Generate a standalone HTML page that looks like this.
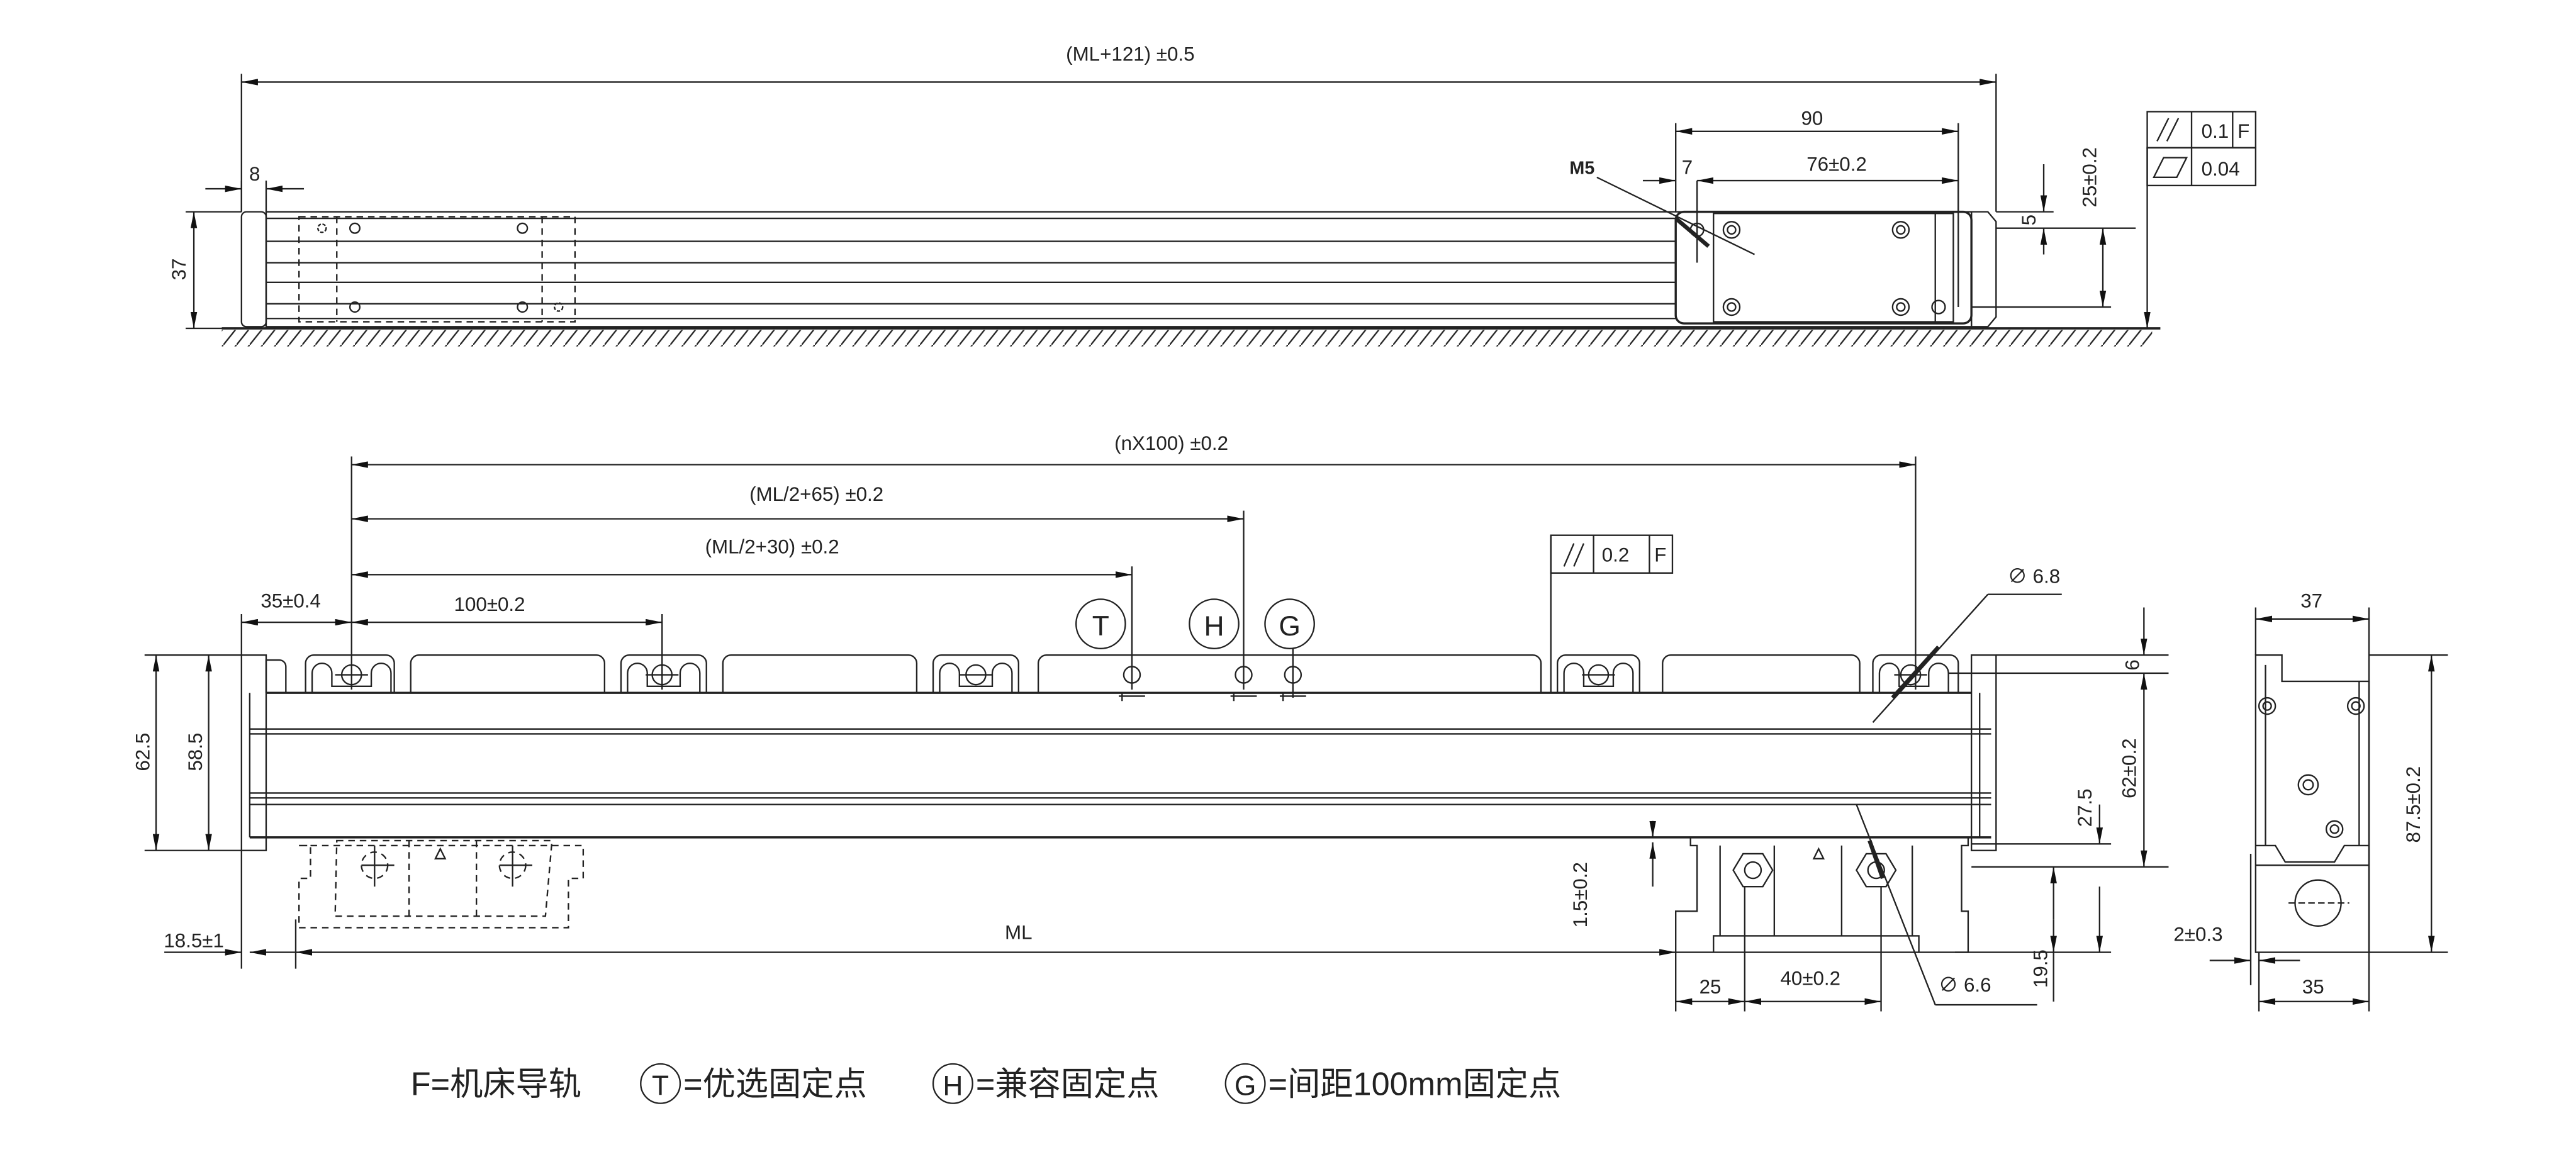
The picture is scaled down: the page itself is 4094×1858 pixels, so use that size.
<!DOCTYPE html>
<html><head><meta charset="utf-8"><style>
html,body{margin:0;padding:0;background:#fff}
svg{display:block}
text{font-family:"Liberation Sans","Noto Sans CJK SC",sans-serif;fill:#222}
</style></head><body>
<svg width="4094" height="1858" viewBox="0 0 1568 712" preserveAspectRatio="none" xmlns="http://www.w3.org/2000/svg">
<defs>
<marker id="a" viewBox="0 0 10 4" refX="10" refY="2" markerWidth="10" markerHeight="4" markerUnits="userSpaceOnUse" orient="auto-start-reverse"><path d="M0,0L10,2L0,4z" fill="#111"/></marker>
<pattern id="h" width="8" height="10" patternUnits="userSpaceOnUse"><path d="M8,0L0,10" stroke="#222" stroke-width="0.9"/></pattern>
</defs>
<g stroke="#222" stroke-width="0.9" fill="none">
<!-- TOP VIEW -->
<line x1="147" y1="45" x2="147" y2="129"/><line x1="1215" y1="45" x2="1215" y2="129"/>
<line x1="147" y1="50" x2="1215" y2="50" marker-start="url(#a)" marker-end="url(#a)"/>
<rect x="135" y="201" width="1175" height="10" fill="url(#h)" stroke="none"/>
<line x1="135" y1="200" x2="1315" y2="200" stroke-width="1.4"/>
<rect x="147" y="129" width="15" height="70" rx="3"/>
<rect x="162" y="129" width="1038" height="70"/>
<line x1="162" y1="133" x2="1020" y2="133"/><line x1="162" y1="147" x2="1020" y2="147"/>
<line x1="162" y1="160" x2="1020" y2="160"/><line x1="162" y1="172" x2="1020" y2="172"/>
<line x1="162" y1="185" x2="1020" y2="185"/><line x1="162" y1="194" x2="1020" y2="194"/>
<rect x="182" y="132" width="168" height="64" stroke-dasharray="4,3"/>
<line x1="205" y1="132" x2="205" y2="196" stroke-dasharray="4,3"/>
<line x1="330" y1="132" x2="330" y2="196" stroke-dasharray="4,3"/>
<circle cx="216" cy="139" r="3"/><circle cx="318" cy="139" r="3"/><circle cx="216" cy="187" r="3"/><circle cx="318" cy="187" r="3"/>
<circle cx="196" cy="139" r="2.5" stroke-dasharray="2,1"/><circle cx="340" cy="187" r="2.5" stroke-dasharray="2,1"/>
<path d="M1200,129h10l5,6v58l-5,6h-10z"/>
<rect x="1020" y="129" width="180" height="68" rx="5" stroke-width="1.3"/>
<rect x="1043" y="130" width="146" height="66"/>
<line x1="1178" y1="130" x2="1178" y2="196"/>
<g><circle cx="1054" cy="140" r="5"/><circle cx="1054" cy="140" r="2.5"/><circle cx="1157" cy="140" r="5"/><circle cx="1157" cy="140" r="2.5"/>
<circle cx="1054" cy="187" r="5"/><circle cx="1054" cy="187" r="2.5"/><circle cx="1157" cy="187" r="5"/><circle cx="1157" cy="187" r="2.5"/>
<circle cx="1180" cy="187" r="4"/><circle cx="1033" cy="140" r="4"/></g>
<line x1="1020" y1="75" x2="1020" y2="129"/><line x1="1192" y1="75" x2="1192" y2="129"/>
<line x1="1020" y1="80" x2="1192" y2="80" marker-start="url(#a)" marker-end="url(#a)"/>
<line x1="1033" y1="110" x2="1033" y2="160"/><line x1="1192" y1="110" x2="1192" y2="187"/>
<line x1="1000" y1="110" x2="1020" y2="110" marker-end="url(#a)"/>
<line x1="1033" y1="110" x2="1192" y2="110" marker-start="url(#a)" marker-end="url(#a)"/>
<line x1="972" y1="108" x2="1068" y2="155"/>
<line x1="1020" y1="133" x2="1040" y2="150" stroke-width="2.5"/>
<line x1="1215" y1="129" x2="1250" y2="129"/><line x1="1215" y1="139" x2="1300" y2="139"/><line x1="1200" y1="187" x2="1285" y2="187"/>
<line x1="1244" y1="100" x2="1244" y2="129" marker-end="url(#a)"/>
<line x1="1244" y1="155" x2="1244" y2="139" marker-end="url(#a)"/>
<line x1="1280" y1="139" x2="1280" y2="187" marker-start="url(#a)" marker-end="url(#a)"/>
<line x1="1307" y1="90" x2="1307" y2="200" marker-end="url(#a)"/>
<rect x="1307" y="68" width="66" height="22"/><line x1="1334" y1="68" x2="1334" y2="113"/><line x1="1359" y1="68" x2="1359" y2="90"/>
<rect x="1307" y="90" width="66" height="23"/>
<line x1="1313" y1="86" x2="1320" y2="72"/><line x1="1319" y1="86" x2="1326" y2="72"/>
<path d="M1311,108h14l6,-12h-14z"/>
<line x1="113" y1="129" x2="147" y2="129"/><line x1="113" y1="200" x2="135" y2="200"/>
<line x1="118" y1="129" x2="118" y2="200" marker-start="url(#a)" marker-end="url(#a)"/>
<line x1="147" y1="110" x2="147" y2="129"/><line x1="162" y1="110" x2="162" y2="129"/>
<line x1="125" y1="115" x2="147" y2="115" marker-end="url(#a)"/><line x1="185" y1="115" x2="162" y2="115" marker-end="url(#a)"/>

<!-- FRONT VIEW -->
<line x1="214" y1="278" x2="214" y2="420"/><line x1="1166" y1="278" x2="1166" y2="420"/>
<line x1="214" y1="283" x2="1166" y2="283" marker-start="url(#a)" marker-end="url(#a)"/>
<line x1="757" y1="311" x2="757" y2="420"/><line x1="214" y1="316" x2="757" y2="316" marker-start="url(#a)" marker-end="url(#a)"/>
<line x1="689" y1="345" x2="689" y2="420"/><line x1="214" y1="350" x2="689" y2="350" marker-start="url(#a)" marker-end="url(#a)"/>
<line x1="403" y1="374" x2="403" y2="420"/><line x1="214" y1="379" x2="403" y2="379" marker-start="url(#a)" marker-end="url(#a)"/>
<line x1="147" y1="374" x2="147" y2="399"/><line x1="147" y1="379" x2="214" y2="379" marker-start="url(#a)" marker-end="url(#a)"/>
<line x1="787" y1="395" x2="787" y2="425"/>
<circle cx="670" cy="380" r="15"/><circle cx="739" cy="380" r="15"/><circle cx="785" cy="380" r="15"/>
<rect x="944" y="326" width="74" height="23"/><line x1="970" y1="326" x2="970" y2="349"/><line x1="1004" y1="326" x2="1004" y2="349"/>
<line x1="944" y1="326" x2="944" y2="422"/>
<line x1="952" y1="345" x2="958" y2="331"/><line x1="958" y1="345" x2="964" y2="331"/>
<!-- tabs -->
<path d="M162,422V402h8a4,4 0 0 1 4,4V422"/>
<path d="M186,422V404a5,5 0 0 1 5,-5h44a5,5 0 0 1 5,5V422"/>
<path d="M190,422V410a6,6 0 0 1 12,0V418h24V410a6,6 0 0 1 12,0V422"/>
<path d="M250,422V404a5,5 0 0 1 5,-5h108a5,5 0 0 1 5,5V422"/>
<path d="M378,422V404a5,5 0 0 1 5,-5h42a5,5 0 0 1 5,5V422"/>
<path d="M382,422V410a6,6 0 0 1 12,0V418h20V410a6,6 0 0 1 12,0V422"/>
<path d="M440,422V404a5,5 0 0 1 5,-5h108a5,5 0 0 1 5,5V422"/>
<path d="M568,422V404a5,5 0 0 1 5,-5h42a5,5 0 0 1 5,5V422"/>
<path d="M572,422V410a6,6 0 0 1 12,0V418h20V410a6,6 0 0 1 12,0V422"/>
<path d="M632,422V404a5,5 0 0 1 5,-5h296a5,5 0 0 1 5,5V422"/>
<path d="M948,422V404a5,5 0 0 1 5,-5h40a5,5 0 0 1 5,5V422"/>
<path d="M952,422V410a6,6 0 0 1 12,0V418h18V410a6,6 0 0 1 12,0V422"/>
<path d="M1012,422V404a5,5 0 0 1 5,-5h110a5,5 0 0 1 5,5V422"/>
<path d="M1140,422V404a5,5 0 0 1 5,-5h42a5,5 0 0 1 5,5V422"/>
<path d="M1144,422V410a6,6 0 0 1 12,0V418h18V410a6,6 0 0 1 12,0V422"/>
<g><circle cx="214" cy="411" r="6"/><circle cx="403" cy="411" r="6"/><circle cx="594" cy="411" r="6"/><circle cx="689" cy="411" r="5"/>
<circle cx="757" cy="411" r="5"/><circle cx="787" cy="411" r="5"/><circle cx="973" cy="411" r="6"/><circle cx="1163" cy="411" r="6"/>
<line x1="204" y1="411" x2="224" y2="411"/><line x1="393" y1="411" x2="413" y2="411"/><line x1="584" y1="411" x2="604" y2="411"/>
<line x1="963" y1="411" x2="983" y2="411"/><line x1="1153" y1="411" x2="1173" y2="411"/>
<path d="M681,424h16M749,424h16M779,424h16M683,422v5M751,422v5M781,422v5"/></g>
<!-- rail -->
<rect x="147" y="399" width="15" height="119"/>
<line x1="152" y1="422" x2="152" y2="510"/>
<line x1="162" y1="422" x2="1200" y2="422" stroke-width="1.3"/>
<line x1="152" y1="510" x2="1212" y2="510" stroke-width="1.3"/>
<line x1="152" y1="444" x2="1212" y2="444"/><line x1="152" y1="447" x2="1212" y2="447"/>
<line x1="152" y1="483" x2="1212" y2="483"/><line x1="152" y1="486" x2="1212" y2="486"/><line x1="152" y1="490" x2="1212" y2="490"/>
<rect x="1200" y="399" width="15" height="119"/><line x1="1205" y1="422" x2="1205" y2="510"/>
<!-- dashed head left -->
<g stroke-dasharray="4,3">
<path d="M182,515H355V535H346V565H182V535H189V515z"/>
<path d="M205,512H336L332,558H204z"/><line x1="249" y1="512" x2="249" y2="558"/><line x1="290" y1="512" x2="290" y2="558"/>
<circle cx="228" cy="527" r="8"/><circle cx="312" cy="527" r="8"/>
</g>
<line x1="220" y1="527" x2="240" y2="527"/><line x1="304" y1="527" x2="324" y2="527"/>
<line x1="228" y1="515" x2="228" y2="540"/><line x1="312" y1="515" x2="312" y2="540"/>
<path d="M265,523l3,-6l3,6z"/>
<!-- reading head bottom -->
<path d="M1020,580V555h13v-40h-4v-5h169v5h-4v40h4v25z"/>
<path d="M1043,580v-10h125v10"/><path d="M1047,570V515M1164,570V515"/>
<line x1="1080" y1="515" x2="1080" y2="570"/><line x1="1121" y1="515" x2="1121" y2="570"/>
<path d="M1061,520h12l6,10l-6,10h-12l-6,-10z"/><circle cx="1067" cy="530" r="5"/>
<path d="M1136,520h12l6,10l-6,10h-12l-6,-10z"/><circle cx="1142" cy="530" r="5"/>
<path d="M1104,523l3,-6l3,6z"/>
<line x1="1130" y1="490" x2="1178" y2="612"/><line x1="1178" y1="612" x2="1240" y2="612"/>
<line x1="1138" y1="512" x2="1146" y2="535" stroke-width="2.5"/>
<line x1="1140" y1="440" x2="1210" y2="362"/><line x1="1210" y1="362" x2="1255" y2="362"/>
<line x1="1152" y1="425" x2="1180" y2="394" stroke-width="2.5"/>
<!-- right dims -->
<line x1="1215" y1="399" x2="1320" y2="399"/><line x1="1186" y1="410" x2="1320" y2="410"/>
<line x1="1200" y1="528" x2="1320" y2="528"/><line x1="1200" y1="514" x2="1285" y2="514"/>
<line x1="1190" y1="580" x2="1285" y2="580"/>
<line x1="1305" y1="370" x2="1305" y2="399" marker-end="url(#a)"/>
<line x1="1305" y1="410" x2="1305" y2="528" marker-start="url(#a)" marker-end="url(#a)"/>
<line x1="1278" y1="490" x2="1278" y2="514" marker-end="url(#a)"/>
<line x1="1278" y1="580" x2="1278" y2="540" marker-start="url(#a)"/>
<line x1="1250" y1="528" x2="1250" y2="560" marker-start="url(#a)"/><line x1="1250" y1="580" x2="1250" y2="610"/>
<line x1="1250" y1="560" x2="1250" y2="580" marker-end="url(#a)"/>
<line x1="1006" y1="500" x2="1006" y2="510" marker-end="url(#a)"/>
<line x1="1006" y1="513" x2="1006" y2="540" marker-start="url(#a)"/>
<!-- left dims -->
<line x1="88" y1="399" x2="147" y2="399"/><line x1="88" y1="518" x2="147" y2="518"/>
<line x1="95" y1="399" x2="95" y2="518" marker-start="url(#a)" marker-end="url(#a)"/>
<line x1="127" y1="399" x2="127" y2="518" marker-start="url(#a)" marker-end="url(#a)"/>
<line x1="147" y1="518" x2="147" y2="590"/><line x1="180" y1="560" x2="180" y2="590"/>
<line x1="100" y1="580" x2="147" y2="580" marker-end="url(#a)"/><line x1="152" y1="580" x2="180" y2="580" marker-start="url(#a)"/>
<line x1="180" y1="580" x2="1020" y2="580" marker-start="url(#a)" marker-end="url(#a)"/>
<line x1="1020" y1="580" x2="1020" y2="616"/><line x1="1062" y1="540" x2="1062" y2="616"/><line x1="1145" y1="540" x2="1145" y2="616"/>
<line x1="1020" y1="610" x2="1062" y2="610" marker-start="url(#a)" marker-end="url(#a)"/>
<line x1="1062" y1="610" x2="1145" y2="610" marker-start="url(#a)" marker-end="url(#a)"/>
<!-- side view -->
<path d="M1373,580V399h16v16h53v165z"/>
<line x1="1379" y1="405" x2="1379" y2="515"/><line x1="1436" y1="415" x2="1436" y2="515"/>
<path d="M1373,515h12l6,10h30l6,-10h15"/><line x1="1373" y1="527" x2="1442" y2="527"/>
<circle cx="1380" cy="430" r="5"/><circle cx="1380" cy="430" r="2.5"/><circle cx="1434" cy="430" r="5"/><circle cx="1434" cy="430" r="2.5"/>
<circle cx="1405" cy="478" r="6"/><circle cx="1405" cy="478" r="3"/><circle cx="1421" cy="505" r="5"/><circle cx="1421" cy="505" r="2.5"/>
<circle cx="1411" cy="550" r="14"/><line x1="1393" y1="550" x2="1430" y2="550" stroke-dasharray="4,2"/>
<line x1="1373" y1="370" x2="1373" y2="399"/><line x1="1442" y1="370" x2="1442" y2="580"/>
<line x1="1373" y1="377" x2="1442" y2="377" marker-start="url(#a)" marker-end="url(#a)"/>
<line x1="1442" y1="399" x2="1490" y2="399"/><line x1="1442" y1="580" x2="1490" y2="580"/>
<line x1="1480" y1="399" x2="1480" y2="580" marker-start="url(#a)" marker-end="url(#a)"/>
<line x1="1370" y1="520" x2="1370" y2="600"/><line x1="1375" y1="580" x2="1375" y2="616"/>
<line x1="1345" y1="585" x2="1370" y2="585" marker-end="url(#a)"/><line x1="1400" y1="585" x2="1375" y2="585" marker-end="url(#a)"/>
<line x1="1375" y1="610" x2="1442" y2="610" marker-start="url(#a)" marker-end="url(#a)"/>
<line x1="1442" y1="580" x2="1442" y2="616"/>
<!-- legend circles -->
<circle cx="402" cy="660" r="12"/><circle cx="580" cy="660" r="12"/><circle cx="758" cy="660" r="12"/>
</g>
<g font-size="12">
<text x="688" y="37" text-anchor="middle">(ML+121) ±0.5</text>
<text x="1103" y="76" text-anchor="middle">90</text>
<text x="1118" y="104" text-anchor="middle">76±0.2</text>
<text x="1027" y="106" text-anchor="middle">7</text>
<text x="963" y="106" text-anchor="middle" font-weight="bold" font-size="11">M5</text>
<text x="155" y="110" text-anchor="middle">8</text>
<text x="1340" y="84">0.1</text><text x="1362" y="84">F</text>
<text x="1340" y="107">0.04</text>
<text transform="translate(113,164) rotate(-90)" text-anchor="middle">37</text>
<text transform="translate(1239,134) rotate(-90)" text-anchor="middle">5</text>
<text transform="translate(1276,108) rotate(-90)" text-anchor="middle">25±0.2</text>
<text x="713" y="274" text-anchor="middle">(nX100) ±0.2</text>
<text x="497" y="305" text-anchor="middle">(ML/2+65) ±0.2</text>
<text x="470" y="337" text-anchor="middle">(ML/2+30) ±0.2</text>
<text x="298" y="372" text-anchor="middle">100±0.2</text>
<text x="177" y="370" text-anchor="middle">35±0.4</text>
<text x="975" y="342">0.2</text><text x="1007" y="342">F</text>
<text x="670" y="387" text-anchor="middle" font-size="17">T</text>
<text x="739" y="387" text-anchor="middle" font-size="17">H</text>
<text x="785" y="387" text-anchor="middle" font-size="17">G</text>
<text x="1222" y="355">∅ 6.8</text>
<text x="1180" y="604">∅ 6.6</text>
<text transform="translate(91,458) rotate(-90)" text-anchor="middle">62.5</text>
<text transform="translate(123,458) rotate(-90)" text-anchor="middle">58.5</text>
<text x="118" y="577" text-anchor="middle">18.5±1</text>
<text x="620" y="572" text-anchor="middle">ML</text>
<text transform="translate(1302,405) rotate(-90)" text-anchor="middle">6</text>
<text transform="translate(1300,468) rotate(-90)" text-anchor="middle">62±0.2</text>
<text transform="translate(1273,492) rotate(-90)" text-anchor="middle">27.5</text>
<text transform="translate(1246,590) rotate(-90)" text-anchor="middle">19.5</text>
<text transform="translate(966,545) rotate(-90)" text-anchor="middle">1.5±0.2</text>
<text x="1041" y="605" text-anchor="middle">25</text>
<text x="1102" y="600" text-anchor="middle">40±0.2</text>
<text x="1407" y="370" text-anchor="middle">37</text>
<text transform="translate(1473,490) rotate(-90)" text-anchor="middle">87.5±0.2</text>
<text x="1338" y="573" text-anchor="middle">2±0.3</text>
<text x="1408" y="605" text-anchor="middle">35</text>
</g>
<g font-size="20">
<text x="250" y="667">F=机床导轨</text>
<text x="402" y="667" text-anchor="middle" font-size="17">T</text>
<text x="416" y="667">=优选固定点</text>
<text x="580" y="667" text-anchor="middle" font-size="17">H</text>
<text x="594" y="667">=兼容固定点</text>
<text x="758" y="667" text-anchor="middle" font-size="17">G</text>
<text x="772" y="667">=间距100mm固定点</text>
</g>
</svg>
</body></html>
